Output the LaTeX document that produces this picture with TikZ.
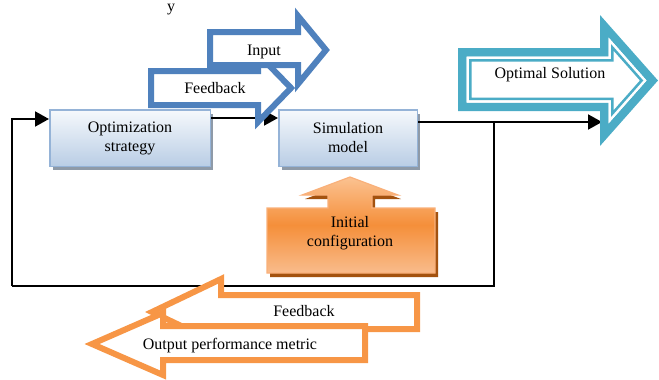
\documentclass[tikz,border=0pt]{standalone}
\usepackage{fontspec}
\setmainfont{Liberation Serif}
\usetikzlibrary{arrows.meta,shadows}
\definecolor{bluearr}{HTML}{4F81BD}
\definecolor{tealarr}{HTML}{4BACC6}
\definecolor{orarr}{HTML}{F79646}
\definecolor{boxtop}{HTML}{F6F9FC}
\definecolor{boxbot}{HTML}{B9CDE5}
\definecolor{boxborder}{HTML}{95B3D7}
\definecolor{boxshadow}{HTML}{8E9AA8}
\definecolor{initshadow}{HTML}{A3520F}
\definecolor{inittop}{HTML}{FBC291}
\definecolor{initmid}{HTML}{F58F3A}
\definecolor{initbot}{HTML}{F9BC8C}
\definecolor{initborder}{HTML}{F9B07A}
\begin{document}
\begin{tikzpicture}[x=1pt,y=-1pt,
  conn/.style={line width=2pt, black},
  arrowend/.style={-{Triangle[length=14pt,width=15pt]}},
  lbl/.style={font=\fontsize{16}{19}\selectfont, inner sep=0pt},
  blockbox/.style={draw=boxborder, line width=1.5pt, top color=boxtop, bottom color=boxbot,
    drop shadow={shadow xshift=3pt,shadow yshift=-4pt,fill=boxshadow,opacity=1},
    font=\fontsize{16}{19}\selectfont, align=center, inner sep=0pt},
  bluearrow/.style={draw=bluearr, fill=white, line width=6pt},
  orarrow/.style={draw=orarr, fill=white, line width=6pt},
  solshape/.style={insert path={({458+#1},{48+#1}) -- ({600+#1},{48+#1}) -- ({600+#1},{15+2.64*#1}) -- ({658-1.34*#1},80.5) -- ({600+#1},{146-2.64*#1}) -- ({600+#1},{111-#1}) -- ({458+#1},{111-#1}) -- cycle}},
  initshape/.style={insert path={(267,208) -- (328,208) -- (328,195) -- (302,195) -- (350,177) -- (398,195) -- (372,195) -- (372,208) -- (435,208) -- (435,273) -- (267,273) -- cycle}}
]
\useasboundingbox (0,0) rectangle (659,380);

% coordinates for connector ends
\coordinate (j) at (494,122);
\coordinate (bl) at (12,286);
\coordinate (optin) at (49,119);
\coordinate (solin) at (602,122);

% boxes
\node[blockbox, minimum width=160.5pt, minimum height=56.5pt] (opt) at (130,138) {Optimization\\strategy};
\node[blockbox, minimum width=138.5pt, minimum height=56.5pt] (sim) at (348,138) {Simulation\\model};

% connectors
\draw[conn] (j) |- (bl);
\draw[conn, arrowend] (bl) |- (optin);
\draw[conn, arrowend] ([yshift=20pt]opt.east) -- ([yshift=20pt]sim.west);
\draw[conn, arrowend] ([yshift=16pt]sim.east) -- (solin);

% blue arrows
\draw[bluearrow] (151,71) -- (258,71) -- (258,54) -- (291,88) -- (258,122) -- (258,105) -- (151,105) -- cycle;
\draw[bluearrow] (210,32) -- (298,32) -- (298,16) -- (326,50) -- (298,84) -- (298,65) -- (210,65) -- cycle;

% teal arrow
\fill[white, solshape=0];
\draw[tealarr, line width=8.5pt, solshape=4.25];
\draw[white, line width=2.5pt, solshape=9.75];
\draw[tealarr, line width=2.5pt, solshape=12.25];

% initial configuration callout
\fill[initshadow, shift={(3,4)}, initshape];
\shade[top color=inittop, bottom color=initbot, middle color=initmid, initshape];
\draw[initborder, line width=1.2pt, initshape];

% orange arrows
\draw[orarrow] (417,295) -- (221,295) -- (221,279) -- (152,312) -- (221,345) -- (221,329) -- (417,329) -- cycle;
\draw[orarrow] (365,326) -- (163,326) -- (163,313) -- (92,344) -- (163,375) -- (163,360) -- (365,360) -- cycle;

% labels
\node[lbl, anchor=base] (ty) at (171,12) {y};
\node[lbl, anchor=base] (tin) at (264,55) {Input};
\node[lbl, anchor=base] (tfb1) at (215,93) {Feedback};
\node[lbl, anchor=base] (tsol) at (550,78) {Optimal Solution};
\node[lbl, align=center] (tinit) at (350,233.5) {Initial\\configuration};
\node[lbl, anchor=base] (tfb2) at (304,316) {Feedback};
\node[lbl, anchor=base] (tout) at (230,349) {Output performance metric};
\end{tikzpicture}
\end{document}
